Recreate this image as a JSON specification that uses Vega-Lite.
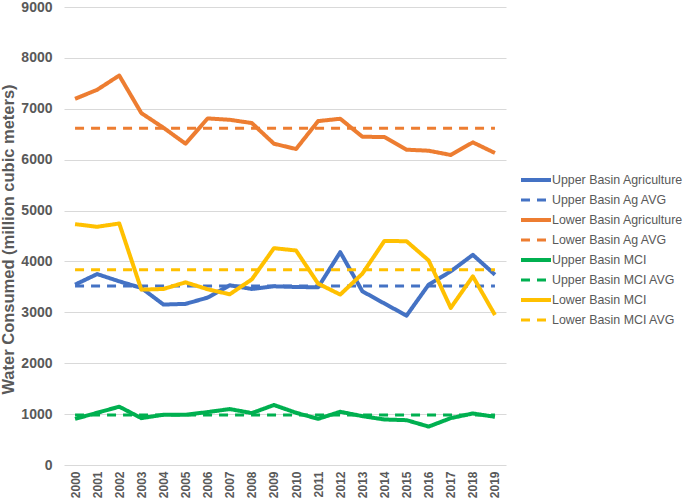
{
  "$schema": "https://vega.github.io/schema/vega-lite/v6.json",
  "width": 442,
  "height": 458,
  "autosize": {"type": "none"},
  "padding": {"left": 64, "top": 7, "right": 179, "bottom": 36},
  "background": "white",
  "config": {
    "view": {"stroke": null},
    "font": "Liberation Sans"
  },
  "data": {
    "values": [
      {"year": "2000", "series": "Upper Basin Agriculture", "value": 3544},
      {"year": "2001", "series": "Upper Basin Agriculture", "value": 3752},
      {"year": "2002", "series": "Upper Basin Agriculture", "value": 3609},
      {"year": "2003", "series": "Upper Basin Agriculture", "value": 3479},
      {"year": "2004", "series": "Upper Basin Agriculture", "value": 3153},
      {"year": "2005", "series": "Upper Basin Agriculture", "value": 3166},
      {"year": "2006", "series": "Upper Basin Agriculture", "value": 3290},
      {"year": "2007", "series": "Upper Basin Agriculture", "value": 3531},
      {"year": "2008", "series": "Upper Basin Agriculture", "value": 3459},
      {"year": "2009", "series": "Upper Basin Agriculture", "value": 3511},
      {"year": "2010", "series": "Upper Basin Agriculture", "value": 3498},
      {"year": "2011", "series": "Upper Basin Agriculture", "value": 3492},
      {"year": "2012", "series": "Upper Basin Agriculture", "value": 4182},
      {"year": "2013", "series": "Upper Basin Agriculture", "value": 3414},
      {"year": "2014", "series": "Upper Basin Agriculture", "value": 3173},
      {"year": "2015", "series": "Upper Basin Agriculture", "value": 2935},
      {"year": "2016", "series": "Upper Basin Agriculture", "value": 3544},
      {"year": "2017", "series": "Upper Basin Agriculture", "value": 3805},
      {"year": "2018", "series": "Upper Basin Agriculture", "value": 4130},
      {"year": "2019", "series": "Upper Basin Agriculture", "value": 3739},
      {"year": "2000", "series": "Upper Basin Ag AVG", "value": 3518},
      {"year": "2019", "series": "Upper Basin Ag AVG", "value": 3518},
      {"year": "2000", "series": "Lower Basin Agriculture", "value": 7196},
      {"year": "2001", "series": "Lower Basin Agriculture", "value": 7373},
      {"year": "2002", "series": "Lower Basin Agriculture", "value": 7654},
      {"year": "2003", "series": "Lower Basin Agriculture", "value": 6915},
      {"year": "2004", "series": "Lower Basin Agriculture", "value": 6627},
      {"year": "2005", "series": "Lower Basin Agriculture", "value": 6314},
      {"year": "2006", "series": "Lower Basin Agriculture", "value": 6810},
      {"year": "2007", "series": "Lower Basin Agriculture", "value": 6784},
      {"year": "2008", "series": "Lower Basin Agriculture", "value": 6719},
      {"year": "2009", "series": "Lower Basin Agriculture", "value": 6314},
      {"year": "2010", "series": "Lower Basin Agriculture", "value": 6209},
      {"year": "2011", "series": "Lower Basin Agriculture", "value": 6758},
      {"year": "2012", "series": "Lower Basin Agriculture", "value": 6804},
      {"year": "2013", "series": "Lower Basin Agriculture", "value": 6451},
      {"year": "2014", "series": "Lower Basin Agriculture", "value": 6444},
      {"year": "2015", "series": "Lower Basin Agriculture", "value": 6196},
      {"year": "2016", "series": "Lower Basin Agriculture", "value": 6176},
      {"year": "2017", "series": "Lower Basin Agriculture", "value": 6092},
      {"year": "2018", "series": "Lower Basin Agriculture", "value": 6340},
      {"year": "2019", "series": "Lower Basin Agriculture", "value": 6131},
      {"year": "2000", "series": "Lower Basin Ag AVG", "value": 6615},
      {"year": "2019", "series": "Lower Basin Ag AVG", "value": 6615},
      {"year": "2000", "series": "Upper Basin MCI", "value": 907},
      {"year": "2001", "series": "Upper Basin MCI", "value": 1026},
      {"year": "2002", "series": "Upper Basin MCI", "value": 1146},
      {"year": "2003", "series": "Upper Basin MCI", "value": 921},
      {"year": "2004", "series": "Upper Basin MCI", "value": 987},
      {"year": "2005", "series": "Upper Basin MCI", "value": 987},
      {"year": "2006", "series": "Upper Basin MCI", "value": 1040},
      {"year": "2007", "series": "Upper Basin MCI", "value": 1099},
      {"year": "2008", "series": "Upper Basin MCI", "value": 1020},
      {"year": "2009", "series": "Upper Basin MCI", "value": 1179},
      {"year": "2010", "series": "Upper Basin MCI", "value": 1026},
      {"year": "2011", "series": "Upper Basin MCI", "value": 907},
      {"year": "2012", "series": "Upper Basin MCI", "value": 1046},
      {"year": "2013", "series": "Upper Basin MCI", "value": 960},
      {"year": "2014", "series": "Upper Basin MCI", "value": 894},
      {"year": "2015", "series": "Upper Basin MCI", "value": 881},
      {"year": "2016", "series": "Upper Basin MCI", "value": 755},
      {"year": "2017", "series": "Upper Basin MCI", "value": 921},
      {"year": "2018", "series": "Upper Basin MCI", "value": 1013},
      {"year": "2019", "series": "Upper Basin MCI", "value": 947},
      {"year": "2000", "series": "Upper Basin MCI AVG", "value": 984},
      {"year": "2019", "series": "Upper Basin MCI AVG", "value": 984},
      {"year": "2000", "series": "Lower Basin MCI", "value": 4733},
      {"year": "2001", "series": "Lower Basin MCI", "value": 4681},
      {"year": "2002", "series": "Lower Basin MCI", "value": 4746},
      {"year": "2003", "series": "Lower Basin MCI", "value": 3446},
      {"year": "2004", "series": "Lower Basin MCI", "value": 3459},
      {"year": "2005", "series": "Lower Basin MCI", "value": 3590},
      {"year": "2006", "series": "Lower Basin MCI", "value": 3453},
      {"year": "2007", "series": "Lower Basin MCI", "value": 3355},
      {"year": "2008", "series": "Lower Basin MCI", "value": 3648},
      {"year": "2009", "series": "Lower Basin MCI", "value": 4261},
      {"year": "2010", "series": "Lower Basin MCI", "value": 4215},
      {"year": "2011", "series": "Lower Basin MCI", "value": 3564},
      {"year": "2012", "series": "Lower Basin MCI", "value": 3349},
      {"year": "2013", "series": "Lower Basin MCI", "value": 3759},
      {"year": "2014", "series": "Lower Basin MCI", "value": 4404},
      {"year": "2015", "series": "Lower Basin MCI", "value": 4397},
      {"year": "2016", "series": "Lower Basin MCI", "value": 4020},
      {"year": "2017", "series": "Lower Basin MCI", "value": 3088},
      {"year": "2018", "series": "Lower Basin MCI", "value": 3707},
      {"year": "2019", "series": "Lower Basin MCI", "value": 2948},
      {"year": "2000", "series": "Lower Basin MCI AVG", "value": 3837},
      {"year": "2019", "series": "Lower Basin MCI AVG", "value": 3837}
    ]
  },
  "mark": {"type": "line", "strokeCap": "butt", "strokeJoin": "round"},
  "encoding": {
    "x": {
      "field": "year",
      "type": "ordinal",
      "scale": {"type": "point", "padding": 0.5},
      "axis": {
        "title": null,
        "labelAngle": -90,
        "labelFont": "Liberation Sans",
        "labelFontWeight": "bold",
        "labelFontSize": 12,
        "labelColor": "#595959",
        "labelPadding": 6,
        "ticks": false,
        "domain": false,
        "grid": false
      }
    },
    "y": {
      "field": "value",
      "type": "quantitative",
      "scale": {"domain": [0, 9000], "nice": false},
      "axis": {
        "title": "Water Consumed (million cubic meters)",
        "titleFont": "Liberation Sans",
        "titleFontSize": 16.5,
        "titleFontWeight": "bold",
        "titleColor": "#595959",
        "titlePadding": 4,
        "titleY": 232,
        "values": [0, 1000, 2000, 3000, 4000, 5000, 6000, 7000, 8000, 9000],
        "format": "d",
        "labelFont": "Liberation Sans",
        "labelFontWeight": "bold",
        "labelFontSize": 14,
        "labelColor": "#595959",
        "labelPadding": 12,
        "ticks": false,
        "domain": false,
        "grid": true,
        "gridColor": "#d9d9d9",
        "gridWidth": 1
      }
    },
    "color": {
      "field": "series",
      "type": "nominal",
      "title": null,
      "scale": {
        "domain": ["Upper Basin Agriculture", "Upper Basin Ag AVG", "Lower Basin Agriculture", "Lower Basin Ag AVG", "Upper Basin MCI", "Upper Basin MCI AVG", "Lower Basin MCI", "Lower Basin MCI AVG"],
        "range": ["#4472C4", "#4472C4", "#ED7D31", "#ED7D31", "#00B050", "#00B050", "#FFC000", "#FFC000"]
      },
      "legend": {
        "orient": "none",
        "legendX": 455,
        "legendY": 163,
        "symbolType": "stroke",
        "symbolSize": 900,
        "clipHeight": 20,
        "labelFont": "Liberation Sans",
        "labelFontSize": 12.4,
        "labelColor": "#595959",
        "labelOffset": -1,
        "rowPadding": 0,
        "labelLimit": 200
      }
    },
    "strokeDash": {
      "field": "series",
      "type": "nominal",
      "title": null,
      "scale": {
        "domain": ["Upper Basin Agriculture", "Upper Basin Ag AVG", "Lower Basin Agriculture", "Lower Basin Ag AVG", "Upper Basin MCI", "Upper Basin MCI AVG", "Lower Basin MCI", "Lower Basin MCI AVG"],
        "range": [[1, 0], [9, 7], [1, 0], [9, 7], [1, 0], [9, 7], [1, 0], [9, 7]]
      }
    },
    "strokeWidth": {
      "field": "series",
      "type": "nominal",
      "title": null,
      "scale": {
        "type": "ordinal",
        "domain": ["Upper Basin Agriculture", "Upper Basin Ag AVG", "Lower Basin Agriculture", "Lower Basin Ag AVG", "Upper Basin MCI", "Upper Basin MCI AVG", "Lower Basin MCI", "Lower Basin MCI AVG"],
        "range": [4, 3, 4, 3, 4, 3, 4, 3]
      }
    }
  }
}
